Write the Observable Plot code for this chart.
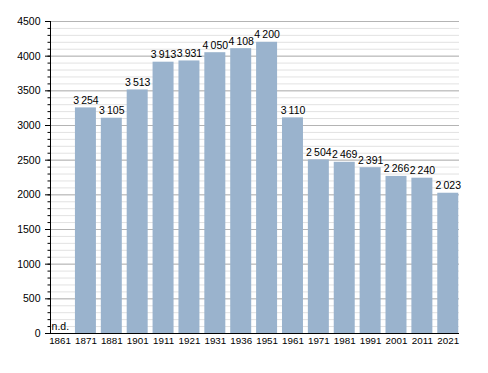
<!DOCTYPE html>
<html>
<head>
<meta charset="utf-8">
<script src="https://cdn.jsdelivr.net/npm/d3@7"></script>
<script src="https://cdn.jsdelivr.net/npm/@observablehq/plot@0.6"></script>
<style>
  html, body { margin: 0; padding: 0; background: #fff; }
  #chart svg { display: block; }
</style>
</head>
<body>
<div id="chart"></div>
<script>
const years = ["1861","1871","1881","1901","1911","1921","1931","1936","1951","1961","1971","1981","1991","2001","2011","2021"];
const population = [null,3254,3105,3513,3913,3931,4050,4108,4200,3110,2504,2469,2391,2266,2240,2023];
const majorTicks = [0,500,1000,1500,2000,2500,3000,3500,4000,4500];
const minorTicks = d3.range(0, 4501, 100);
const missingLabel = "n.d.";

const data = years.map((y, i) => ({year: y, pop: population[i]}));
const present = data.filter(d => d.pop != null);
const missing = data.filter(d => d.pop == null);
const fmt = v => {
  const s = String(v);
  return s.length > 3 ? s.slice(0, s.length - 3) + "\u2009" + s.slice(-3) : s;
};
const font = "'Liberation Sans', Arial, Helvetica, sans-serif";

const chart = Plot.plot({
  width: 488,
  height: 373,
  marginLeft: 50,
  marginRight: 29,
  marginTop: 21,
  marginBottom: 40,
  style: {fontFamily: font, fontSize: "10.5px", background: "#fff", color: "#000"},
  x: {type: "band", domain: years, padding: 0, round: false, range: [46.6, 460.7]},
  y: {domain: [0, 4500]},
  marks: [
    Plot.ruleY(minorTicks, {stroke: "#e2e2e2", strokeWidth: 1}),
    Plot.ruleY(majorTicks, {stroke: "#b4b4b4", strokeWidth: 1}),
    Plot.barY(present, {x: "year", y: "pop", fill: "#9ab3cd", insetLeft: 2.45, insetRight: 2.45}),
    Plot.text(present, {x: "year", y: "pop", text: d => fmt(d.pop), lineAnchor: "bottom", dy: -4, fontSize: 10.5, fill: "#000"}),
    Plot.text(missing, {x: "year", y: () => 0, text: () => missingLabel, textAnchor: "start", lineAnchor: "bottom", dx: -8.5, dy: -4, fontSize: 10.5, fill: "#000"}),
    Plot.axisY({ticks: minorTicks, tickSize: 2.5, tickFormat: () => "", label: null, stroke: "#000"}),
    Plot.axisY({ticks: majorTicks, tickSize: 5, tickPadding: 5, tickFormat: d => String(d), label: null, fontSize: 10.5, fill: "#000", stroke: "#000"}),
    Plot.axisX({tickSize: 0, tickPadding: 4, label: null, fontSize: 9.8, fill: "#000"}),
    Plot.ruleY([0], {stroke: "#000"}),
    Plot.frame({anchor: "left", stroke: "#000"})
  ]
});
document.getElementById("chart").append(chart);
</script>
</body>
</html>
